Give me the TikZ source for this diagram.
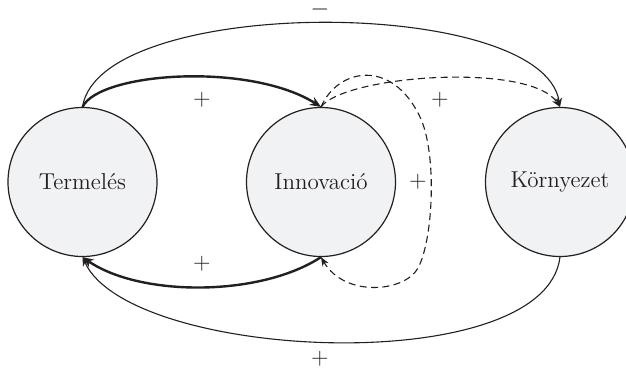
\documentclass[tikz,border=0pt]{standalone}
\usetikzlibrary{arrows.meta}
\definecolor{ink}{HTML}{231F20}
\definecolor{disc}{HTML}{F1F2F4}
\begin{document}
\begin{tikzpicture}[x=0.5pt,y=-0.5pt,
  factor/.style={circle,draw=ink,fill=disc,line width=0.6pt,minimum size=74.5pt,inner sep=0pt,font=\fontsize{11.5}{13}\selectfont,text=ink},
  sign/.style={font=\fontsize{11.5}{13}\selectfont,text=ink,inner sep=0pt},
  thick link/.style={draw=ink,line width=1.2pt,-{Stealth[length=5.5pt,width=4.5pt]}},
  thin link/.style={draw=ink,line width=0.55pt,-{Stealth[length=4.5pt,width=3.5pt]}},
  dash link/.style={draw=ink,line width=0.55pt,dash pattern=on 3.5pt off 2.2pt,-{Stealth[length=4.5pt,width=3.5pt]}}]
\useasboundingbox (0,0) rectangle (626,370);
\node[factor] (T) at (82.5,182) {Termelés};
\node[factor] (I) at (321,182) {Innovació};
\node[factor] (K) at (560,182) {Környezet};
% top thin arc (-)
\draw[thin link] (T.north) .. controls (100,-5) and (542,-5) .. (K.north);
\node[sign,anchor=base] (m1) at (320,15.5) {$-$};
% thick top arc
\draw[thick link] (T.north) .. controls (100,72) and (250,62) .. (I.north);
\node[sign] (p1) at (202,100) {+};
% dashed to Környezet
\draw[dash link] (I.north) .. controls (345,75) and (530,62) .. (K.north);
\node[sign] (p2) at (440,100) {+};
% dashed self loop
\draw[dash link] (I.north) .. controls (338,68) and (392,58) .. (420,117)
  .. controls (437,152) and (433.6,239) .. (418,268)
  .. controls (405,292) and (345,298) .. (I.south);
\node[sign] (p3) at (418,182) {+};
% thick bottom arc
\draw[thick link] (I.south) .. controls (260,297) and (140,297) .. (T.south);
\node[sign] (p4) at (202,264) {+};
% bottom thin arc
\draw[thin link] (K.south) .. controls (545,380) and (130,361) .. (T.south);
\node[sign] (p5) at (320,359) {+};
\end{tikzpicture}
\end{document}
